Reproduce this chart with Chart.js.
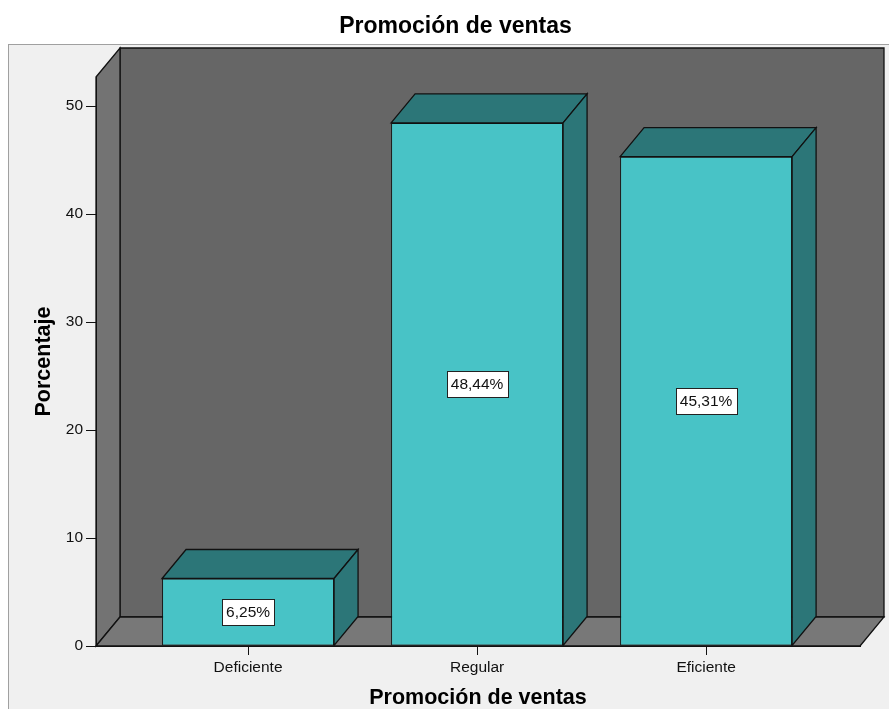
<!DOCTYPE html>
<html>
<head>
<meta charset="utf-8">
<script src="https://cdn.jsdelivr.net/npm/chart.js@4.4.0/dist/chart.umd.min.js"></script>
<style>
html,body{margin:0;padding:0;background:#fff;}
</style>
</head>
<body>
<canvas id="myChart" width="889" height="709"></canvas>
<script>
var categories=['Deficiente','Regular','Eficiente'];
var porcentajes=[6.25,48.44,45.31];
var yTicks=[0,10,20,30,40,50];
var chartTitle='Promoción de ventas';
var xTitle='Promoción de ventas';
var yTitle='Porcentaje';

var fam='"Liberation Sans", Arial, sans-serif';
var dx=24, dy=29; // profundidad 3D

function poly(ctx,pts,fill) {
    ctx.beginPath();
    ctx.moveTo(pts[0][0],pts[0][1]);
    for(let i=1;i<pts.length;i++) ctx.lineTo(pts[i][0],pts[i][1]);
    ctx.closePath();
    ctx.fillStyle=fill;
    ctx.fill();
    ctx.strokeStyle='#111';
    ctx.lineWidth=1.3;
    ctx.stroke();
}

//panel, paredes y piso
var box3d={
    id:'box3d',
    beforeDraw:function(chart) {
        var ctx=chart.ctx, a=chart.chartArea;
        var L=a.left, R=a.right, T=a.top, B=a.bottom;
        ctx.save();
        ctx.fillStyle='#f0f0f0';
        ctx.fillRect(8.5,44.5,chart.width,chart.height);
        ctx.strokeStyle='#a0a0a0';
        ctx.lineWidth=1;
        ctx.strokeRect(8.5,44.5,chart.width,chart.height);
        poly(ctx,[[L+dx,T-dy],[R+dx,T-dy],[R+dx,B-dy],[L+dx,B-dy]],'#666666');
        poly(ctx,[[L,T],[L+dx,T-dy],[L+dx,B-dy],[L,B]],'#737373');
        poly(ctx,[[L,B],[L+dx,B-dy],[R+dx,B-dy],[R,B]],'#787878');
        ctx.restore();
    },
    afterDatasetsDraw:function(chart) {
        var ctx=chart.ctx;
        var meta=chart.getDatasetMeta(0);
        ctx.save();
        meta.data.forEach(function(bar,i) {
            var p=bar.getProps(['x','y','base','width'],true);
            var l=p.x-p.width/2, r=p.x+p.width/2, t=p.y, b=p.base;
            poly(ctx,[[l,t],[l+dx,t-dy],[r+dx,t-dy],[r,t]],'#2c7678');
            poly(ctx,[[r,t],[r+dx,t-dy],[r+dx,b-dy],[r,b]],'#2c7678');
            /*etiqueta de porcentaje*/
            var txt=porcentajes[i].toFixed(2).replace('.',',')+'%';
            ctx.font='15.5px '+fam;
            var w=ctx.measureText(txt).width+8, h=26;
            var cy=(t+b)/2;
            ctx.fillStyle='#fff';
            ctx.fillRect(Math.round(p.x-w/2)+0.5,Math.round(cy-h/2)+0.5,Math.round(w),h);
            ctx.strokeStyle='#222';
            ctx.lineWidth=1;
            ctx.strokeRect(Math.round(p.x-w/2)+0.5,Math.round(cy-h/2)+0.5,Math.round(w),h);
            ctx.fillStyle='#111';
            ctx.textAlign='center';
            ctx.textBaseline='middle';
            ctx.fillText(txt,p.x,cy+1);
        });
        ctx.restore();
    },
    afterDraw:function(chart) {
        var ctx=chart.ctx;
        ctx.save();
        ctx.font='bold 23px '+fam;
        ctx.fillStyle='#000';
        ctx.textAlign='center';
        ctx.textBaseline='middle';
        ctx.fillText(chartTitle,455.5,27);
        ctx.restore();
    }
};

var ctx=document.querySelector('#myChart').getContext('2d');
var myChart=new Chart(ctx,{
    type:'bar',
    data:{
        datasets:[{
            label:yTitle,
            data:porcentajes.map(function(v,i) { return {x:i,y:v}; }),
            backgroundColor:'#48c3c6',
            borderColor:'#111',
            borderWidth:1,
            borderSkipped:false,
            barPercentage:0.751,
            categoryPercentage:1
        }]
    },
    options:{
        responsive:false,
        animation:false,
        layout:{padding:{top:77,right:29,left:0,bottom:0}},
        plugins:{legend:{display:false},tooltip:{enabled:false}},
        scales:{
            x:{
                type:'linear',
                offset:false,
                min:-0.664,
                max:2.672,
                afterBuildTicks:function(s) {
                    s.ticks=categories.map(function(c,i) { return {value:i}; });
                },
                afterFit:function(s) { s.height=63; },
                ticks:{
                    callback:function(v) { return categories[v]; },
                    color:'#111',
                    font:{family:fam,size:15.5},
                    padding:3,
                    maxRotation:0,
                    autoSkip:false
                },
                grid:{offset:false,drawOnChartArea:false,tickLength:9,color:'#111',tickColor:'#111'},
                border:{display:true,color:'#111',width:1},
                title:{display:true,text:xTitle,color:'#000',font:{family:fam,size:21.5,weight:'bold',lineHeight:1},padding:0}
            },
            y:{
                min:0,
                max:52.69,
                afterBuildTicks:function(s) {
                    s.ticks=yTicks.map(function(v) { return {value:v}; });
                },
                afterFit:function(s) { s.width=96; },
                ticks:{color:'#111',font:{family:fam,size:15.5},padding:3},
                grid:{drawOnChartArea:false,tickLength:10,color:'#111',tickColor:'#111'},
                border:{display:true,color:'#111',width:1},
                title:{display:true,text:yTitle,color:'#000',font:{family:fam,size:21.5,weight:'bold',lineHeight:1},padding:{top:33,bottom:0}}
            }
        }
    },
    plugins:[box3d]
});
</script>
</body>
</html>
